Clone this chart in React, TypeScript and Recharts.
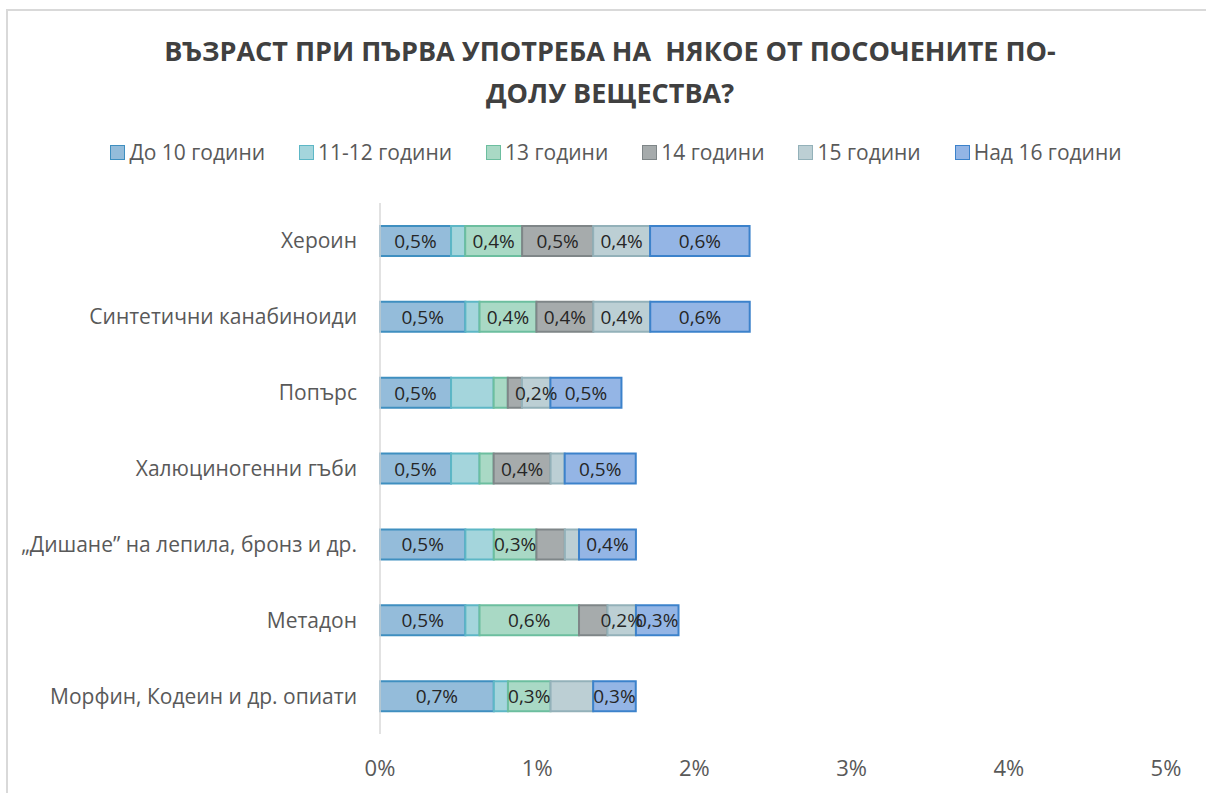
import React from 'react';
import { BarChart, Bar, XAxis, YAxis, LabelList } from 'recharts';

const categories = [
  'Хероин',
  'Синтетични канабиноиди',
  'Попърс',
  'Халюциногенни гъби',
  '„Дишане” на лепила, бронз и др.',
  'Метадон',
  'Морфин, Кодеин и др. опиати',
];

const seriesNames = ['До 10 години', '11-12 години', '13 години', '14 години', '15 години', 'Над 16 години'];

const under10 = [0.452, 0.543, 0.452, 0.452, 0.543, 0.543, 0.724];
const age11to12 = [0.09, 0.09, 0.271, 0.181, 0.181, 0.09, 0.09];
const age13 = [0.362, 0.362, 0.09, 0.09, 0.271, 0.633, 0.271];
const age14 = [0.452, 0.362, 0.09, 0.362, 0.181, 0.181, 0];
const age15 = [0.362, 0.362, 0.181, 0.09, 0.09, 0.181, 0.271];
const over16 = [0.633, 0.633, 0.452, 0.452, 0.362, 0.271, 0.271];

// which data labels are shown in the original
const showUnder10 = [true, true, true, true, true, true, true];
const show11to12 = [false, false, false, false, false, false, false];
const show13 = [true, true, false, false, true, true, true];
const show14 = [true, true, false, true, false, false, false];
const show15 = [true, true, true, false, false, true, false];
const showOver16 = [true, true, true, true, true, true, true];

const xTicks = [0, 1, 2, 3, 4, 5];

const fills = ['#94BCDA', '#A4D5DC', '#A9D9C5', '#A6ABAC', '#BCCFD4', '#94B5E5'];
const strokes = ['#3F8FC0', '#5DB7C6', '#6CBE9F', '#7F8688', '#93B1B9', '#3C82CB'];

const seriesValues = [under10, age11to12, age13, age14, age15, over16];
const seriesShow = [showUnder10, show11to12, show13, show14, show15, showOver16];
const keys = ['s0', 's1', 's2', 's3', 's4', 's5'];

const data = categories.map((name, i) => {
  const row: any = { name };
  keys.forEach((k, s) => {
    row[k] = seriesValues[s][i];
  });
  return row;
});

const FONT = '"Open Sans", sans-serif';

const makeLabel = (flags: boolean[]) => (props: any) => {
  const { x, y, width, height, value, index } = props;
  if (!flags[index] || !value) return null;
  const txt = Number(value).toFixed(1).replace('.', ',') + '%';
  return (
    <text
      x={Number(x) + Number(width) / 2}
      y={Number(y) + Number(height) / 2}
      textAnchor="middle"
      dominantBaseline="central"
      fontFamily={FONT}
      fontSize={19}
      fill="#262626"
    >
      {txt}
    </text>
  );
};

export default function App() {
  return (
    <div style={{ position: 'fixed', left: 0, top: 0, width: 1206, height: 793, overflow: 'hidden', background: '#fff' }}>
      <div
        style={{
          position: 'absolute',
          left: 6,
          top: 9,
          width: 1260,
          height: 900,
          border: '2px solid #D9D9D9',
          boxSizing: 'border-box',
        }}
      />
      <div
        style={{
          position: 'absolute',
          left: 0,
          top: 30,
          width: 1220,
          textAlign: 'center',
          fontFamily: FONT,
          fontWeight: 700,
          fontSize: 27,
          lineHeight: '42px',
          color: '#404040',
        }}
      >
        ВЪЗРАСТ ПРИ ПЪРВА УПОТРЕБА НА&nbsp; НЯКОЕ ОТ ПОСОЧЕНИТЕ ПО-
        <br />
        ДОЛУ ВЕЩЕСТВА?
      </div>
      <div
        style={{
          position: 'absolute',
          left: 0,
          top: 138,
          width: 1232,
          height: 28,
          display: 'flex',
          justifyContent: 'center',
          alignItems: 'center',
          gap: 34,
          fontFamily: FONT,
          fontSize: 21,
          color: '#595959',
        }}
      >
        {seriesNames.map((n, i) => (
          <div key={n} style={{ display: 'flex', alignItems: 'center' }}>
            <div
              style={{
                width: 15,
                height: 15,
                background: fills[i],
                border: `1.5px solid ${strokes[i]}`,
                boxSizing: 'border-box',
                marginRight: 4,
              }}
            />
            <span>{n}</span>
          </div>
        ))}
      </div>
      <div style={{ position: 'absolute', left: 0, top: 0 }}>
        <BarChart
          width={1206}
          height={793}
          data={data}
          layout="vertical"
          margin={{ top: 203, right: 40, bottom: 19, left: 0 }}
          barSize={30}
        >
          <XAxis
            type="number"
            domain={[0, 5]}
            ticks={xTicks}
            tickFormatter={(v: number) => `${v}%`}
            axisLine={false}
            tickLine={false}
            tickSize={0}
            tickMargin={26}
            height={40}
            tick={{ fill: '#595959', fontSize: 22, fontFamily: FONT }}
            interval={0}
          />
          <YAxis
            type="category"
            dataKey="name"
            width={380}
            axisLine={{ stroke: '#D9D9D9', strokeWidth: 1.5 }}
            tickLine={false}
            tickSize={0}
            tickMargin={23}
            tick={{ fill: '#595959', fontSize: 21, fontFamily: FONT }}
            interval={0}
          />
          {keys.map((k, s) => (
            <Bar
              key={k}
              dataKey={k}
              name={seriesNames[s]}
              stackId="a"
              fill={fills[s]}
              stroke={strokes[s]}
              strokeWidth={2}
              isAnimationActive={false}
            >
              <LabelList dataKey={k} content={makeLabel(seriesShow[s])} />
            </Bar>
          ))}
        </BarChart>
      </div>
    </div>
  );
}
